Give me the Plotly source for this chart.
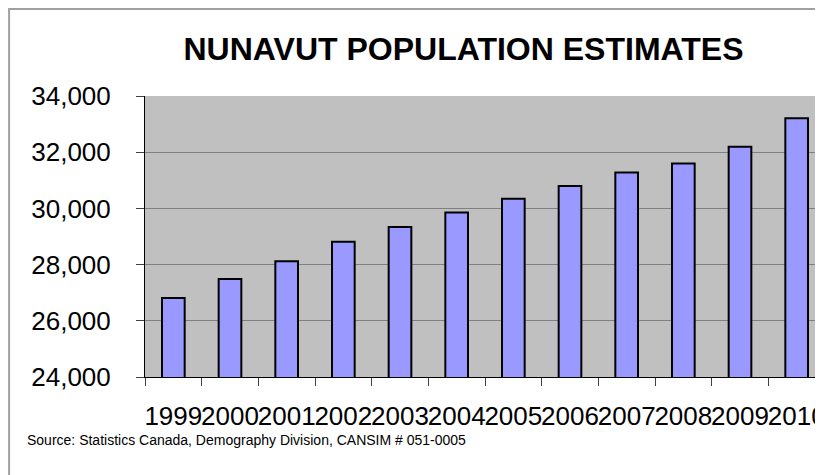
import plotly.graph_objects as go

# ------------------------------------------------------ #
#                        Data                             #
# ------------------------------------------------------ #
years = ["1999", "2000", "2001", "2002", "2003", "2004",
         "2005", "2006", "2007", "2008", "2009", "2010"]
population = [26810, 27490, 28120, 28810, 29340, 29850,
              30340, 30800, 31275, 31600, 32190, 33210]
y_ticks = [24000, 26000, 28000, 30000, 32000, 34000]

title_text = "NUNAVUT POPULATION ESTIMATES"
source_text = "Source: Statistics Canada, Demography Division, CANSIM # 051-0005"

FONT = "Liberation Sans, Arial, sans-serif"
# the page keeps the browser's 8px body margin, so the figure is
# a bit larger than the window and its right/bottom edges are cut off
W, H = 860, 490
L, T = 137, 88
plot_w = 12 * 56.7
plot_h = 281
R = W - L - plot_w
B = H - T - plot_h

fig = go.Figure()
fig.add_trace(go.Bar(
    x=years,
    y=population,
    width=0.4,
    marker=dict(color="#9999FF", line=dict(color="black", width=2)),
    hoverinfo="x+y",
))

fig.update_layout(
    width=W,
    height=H,
    margin=dict(l=L, r=R, t=T, b=B, pad=0, autoexpand=False),
    paper_bgcolor="white",
    plot_bgcolor="#C0C0C0",
    showlegend=False,
    font=dict(family=FONT, color="black"),
    title=dict(
        text="<b>" + title_text + "</b>",
        font=dict(family=FONT, size=32, color="black"),
        xref="container", x=455.5 / W, xanchor="center",
        yref="container", y=1 - 41 / H, yanchor="middle",
        automargin=False,
    ),
    xaxis=dict(
        type="category",
        range=[-0.5, 11.5],
        tickson="boundaries",
        ticks="outside", ticklen=8, tickcolor="#404040", tickwidth=1,
        showline=True, linecolor="black", linewidth=1,
        showgrid=False,
        tickangle=0,
        automargin=False,
        tickfont=dict(family=FONT, size=26, color="black"),
        ticklabelstandoff=16,
    ),
    yaxis=dict(
        range=[24000, 34000],
        tickvals=y_ticks,
        tickformat=",d",
        ticks="outside", ticklen=8, tickcolor="#404040", tickwidth=1,
        showline=True, linecolor="black", linewidth=1,
        showgrid=True, gridcolor="#808080", gridwidth=1,
        zeroline=False,
        automargin=False,
        tickfont=dict(family=FONT, size=26, color="black"),
        ticklabelstandoff=20,
    ),
)

# source note under the chart
fig.add_annotation(
    text=source_text,
    xref="paper", yref="paper",
    x=(17 - L) / plot_w, y=-(432 - (T + plot_h)) / plot_h,
    xanchor="left", yanchor="middle",
    showarrow=False,
    font=dict(family=FONT, size=14, color="black"),
)

# outer chart border around the whole figure
fig.add_shape(type="rect", xref="paper", yref="paper",
              x0=(1 - L) / plot_w, x1=(W - 1 - L) / plot_w,
              y0=-(H - 1 - T - plot_h) / plot_h, y1=1 + (T - 1) / plot_h,
              line=dict(color="#A0A0A0", width=2), layer="below")

fig.write_html("out.html")
